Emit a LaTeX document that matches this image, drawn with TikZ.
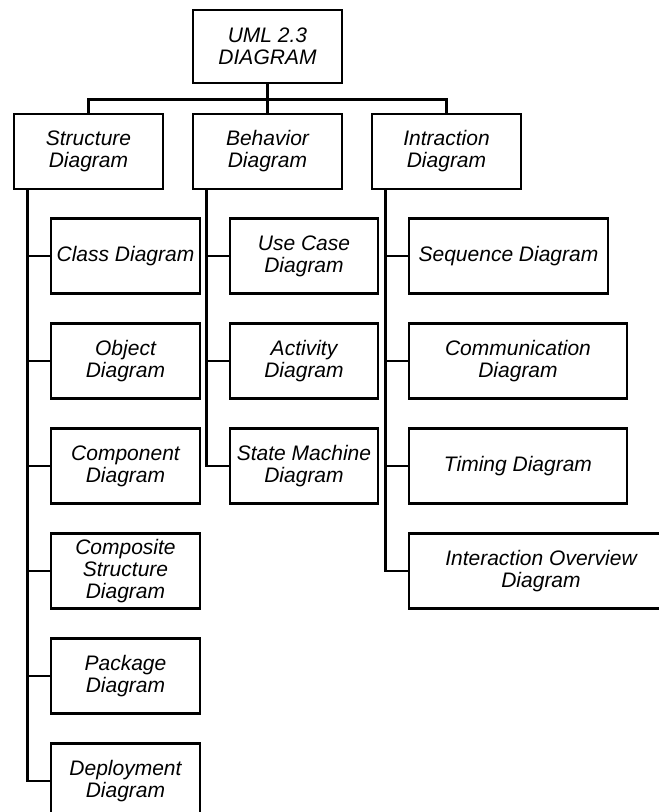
\documentclass[tikz,border=0pt]{standalone}
\usepackage{fontspec}
\setmainfont{Liberation Sans}
\usetikzlibrary{calc}

\tikzset{
  umlbox/.style={draw, line width=2.6pt, inner sep=0pt, align=center,
    minimum height=75pt, fill=white,
    font=\fontsize{21}{22}\selectfont\itshape},
  link/.style={line width=2.8pt}
}

\begin{document}
\begin{tikzpicture}[x=1pt, y=-1pt]
  \useasboundingbox (0,0) rectangle (659,812);
  \clip (0,0) rectangle (659,812);

  % root and the three families
  \node[umlbox, minimum width=149pt, minimum height=73pt] (root) at (267.5,46.5) {UML 2.3\\DIAGRAM};
  \node[umlbox, minimum width=149pt] (struct) at (88.5,151.5) {Structure\\Diagram};
  \node[umlbox, minimum width=149pt] (behav)  at (267.5,151.5) {Behavior\\Diagram};
  \node[umlbox, minimum width=149pt] (inter)  at (446.5,151.5) {Intraction\\Diagram};

  % structure diagrams
  \node[umlbox, minimum width=149pt] (class) at (125.5,256) {Class Diagram};
  \node[umlbox, minimum width=149pt] (object) at (125.5,361) {Object\\Diagram};
  \node[umlbox, minimum width=149pt] (component) at (125.5,466) {Component\\Diagram};
  \node[umlbox, minimum width=149pt] (composite) at (125.5,571) {Composite\\Structure\\Diagram};
  \node[umlbox, minimum width=149pt] (package) at (125.5,676) {Package\\Diagram};
  \node[umlbox, minimum width=149pt] (deploy) at (125.5,781) {Deployment\\Diagram};

  % behavior diagrams
  \node[umlbox, minimum width=148pt] (usecase) at (304,256) {Use Case\\Diagram};
  \node[umlbox, minimum width=148pt] (activity) at (304,361) {Activity\\Diagram};
  \node[umlbox, minimum width=148pt] (statemachine) at (304,466) {State Machine\\Diagram};

  % interaction diagrams
  \node[umlbox, minimum width=199pt] (sequence) at (508.5,256) {Sequence Diagram};
  \node[umlbox, minimum width=218pt] (communication) at (518,361) {Communication\\Diagram};
  \node[umlbox, minimum width=218pt] (timing) at (518,466) {Timing Diagram};
  \node[umlbox, minimum width=264pt] (overview) at (541,571) {Interaction Overview\\Diagram};

  % root to families
  \coordinate (bar) at ($(root.south)+(0,15)$);
  \draw[link] (root.south) -- (bar);
  \draw[link] (struct.north) |- (bar) -| (inter.north);
  \draw[link] (bar) -- (behav.north);

  % trunks
  \coordinate (st) at ($(struct.south west)+(15,0)$);
  \coordinate (bt) at ($(behav.south west)+(15,0)$);
  \coordinate (it) at ($(inter.south west)+(15,0)$);

  \draw[link] (st) |- (deploy.west);
  \foreach \n in {class,object,component,composite,package}
    \draw[link] (\n.west -| st) -- (\n.west);

  \draw[link] (bt) |- (statemachine.west);
  \foreach \n in {usecase,activity}
    \draw[link] (\n.west -| bt) -- (\n.west);

  \draw[link] (it) |- (overview.west);
  \foreach \n in {sequence,communication,timing}
    \draw[link] (\n.west -| it) -- (\n.west);
\end{tikzpicture}
\end{document}
